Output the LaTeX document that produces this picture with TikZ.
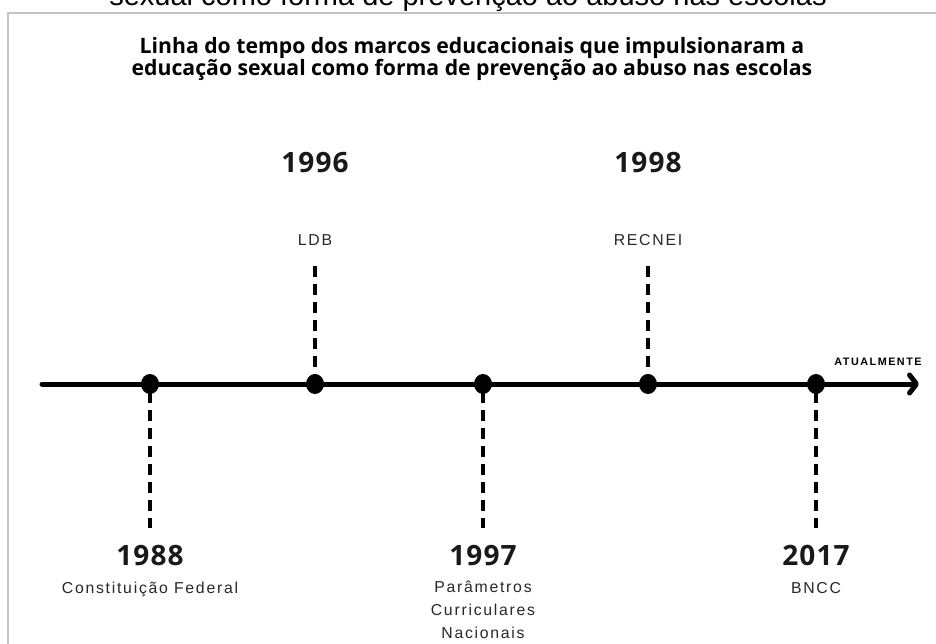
\documentclass[tikz,border=0pt]{standalone}
\usepackage{fontspec}
\setmainfont{Liberation Sans}
\newfontfamily\titlefont{Open Sans}
\newfontfamily\yearfont[LetterSpace=4]{Open Sans}
\newfontfamily\labelfont[LetterSpace=11]{Liberation Sans}
\newfontfamily\nowfont[LetterSpace=14]{Liberation Sans}
\usetikzlibrary{arrows.meta,shapes.geometric}
\definecolor{framegray}{RGB}{196,196,196}
\definecolor{labelgray}{RGB}{40,40,40}
\tikzset{
  year/.style={font=\yearfont\bfseries\fontsize{28}{30}\selectfont, inner sep=0pt, anchor=base, text=black!90},
  lbl/.style={font=\labelfont\fontsize{15.8}{23}\selectfont, inner sep=0pt, anchor=base, align=center, text=labelgray},
  dot/.style={ellipse, fill=black, minimum width=18pt, minimum height=20pt, inner sep=0pt},
  tick/.style={line width=3.6pt, dash pattern=on 11pt off 7pt},
}
\begin{document}
\begin{tikzpicture}[x=1pt,y=-1pt]
\useasboundingbox (0,0) rectangle (936,644);
\fill[white] (0,0) rectangle (936,644);
% clipped caption at top
\begin{scope}
\clip (0,0) rectangle (936,12);
\node[font=\fontsize{29}{32}\selectfont, inner sep=0pt, anchor=base] (cap) at (468,6) {sexual como forma de prevenção ao abuso nas escolas};
\end{scope}
% frame
\draw[framegray, line width=2.5pt] (8,644) -- (8,13) -- (936,13);
% title
\node[font=\titlefont\bfseries\fontsize{21.2}{17.5}\selectfont, align=center, inner sep=0pt, anchor=base] (title) at (472,76) {Linha do tempo dos marcos educacionais que impulsionaram a\\educação sexual como forma de prevenção ao abuso nas escolas};
% timeline
\coordinate (start) at (42,384);
\coordinate (end) at (919,384);
\draw[line width=5pt, line cap=round, -{Straight Barb[length=7pt,width=18pt,round]}] (start) -- (end);
\node[font=\nowfont\bfseries\fontsize{10.8}{12}\selectfont, inner sep=0pt, anchor=base] (now) at (878,365) {ATUALMENTE};
% dots
\node[dot] (d1) at (150,384) {};
\node[dot] (d2) at (315,384) {};
\node[dot] (d3) at (483,384) {};
\node[dot] (d4) at (648,384) {};
\node[dot] (d5) at (816,384) {};
% upper events
\node[year] (y1996) at (315,173) {1996};
\node[lbl] (ldb) at (315,245) {LDB};
\coordinate (t2) at (315,266);
\draw[tick] (t2) -- (d2.center);
\node[year] (y1998) at (648,173) {1998};
\node[lbl] (recnei) at (648,245) {RECNEI};
\coordinate (t4) at (648,266);
\draw[tick] (t4) -- (d4.center);
% lower events
\coordinate (b1) at (150,528);
\draw[tick] (d1.center) ++(0,8) -- (b1);
\node[year] (y1988) at (150,565) {1988};
\node[lbl] (cf) at (150,593) {Constituição Federal};
\coordinate (b3) at (483,528);
\draw[tick] (d3.center) ++(0,8) -- (b3);
\node[year] (y1997) at (483,565) {1997};
\node[lbl, anchor=north] (pcn) at (483,581) {Parâmetros\\Curriculares\\Nacionais};
\coordinate (b5) at (816,528);
\draw[tick] (d5.center) ++(0,8) -- (b5);
\node[year] (y2017) at (816,565) {2017};
\node[lbl] (bncc) at (816,593) {BNCC};
\end{tikzpicture}
\end{document}
